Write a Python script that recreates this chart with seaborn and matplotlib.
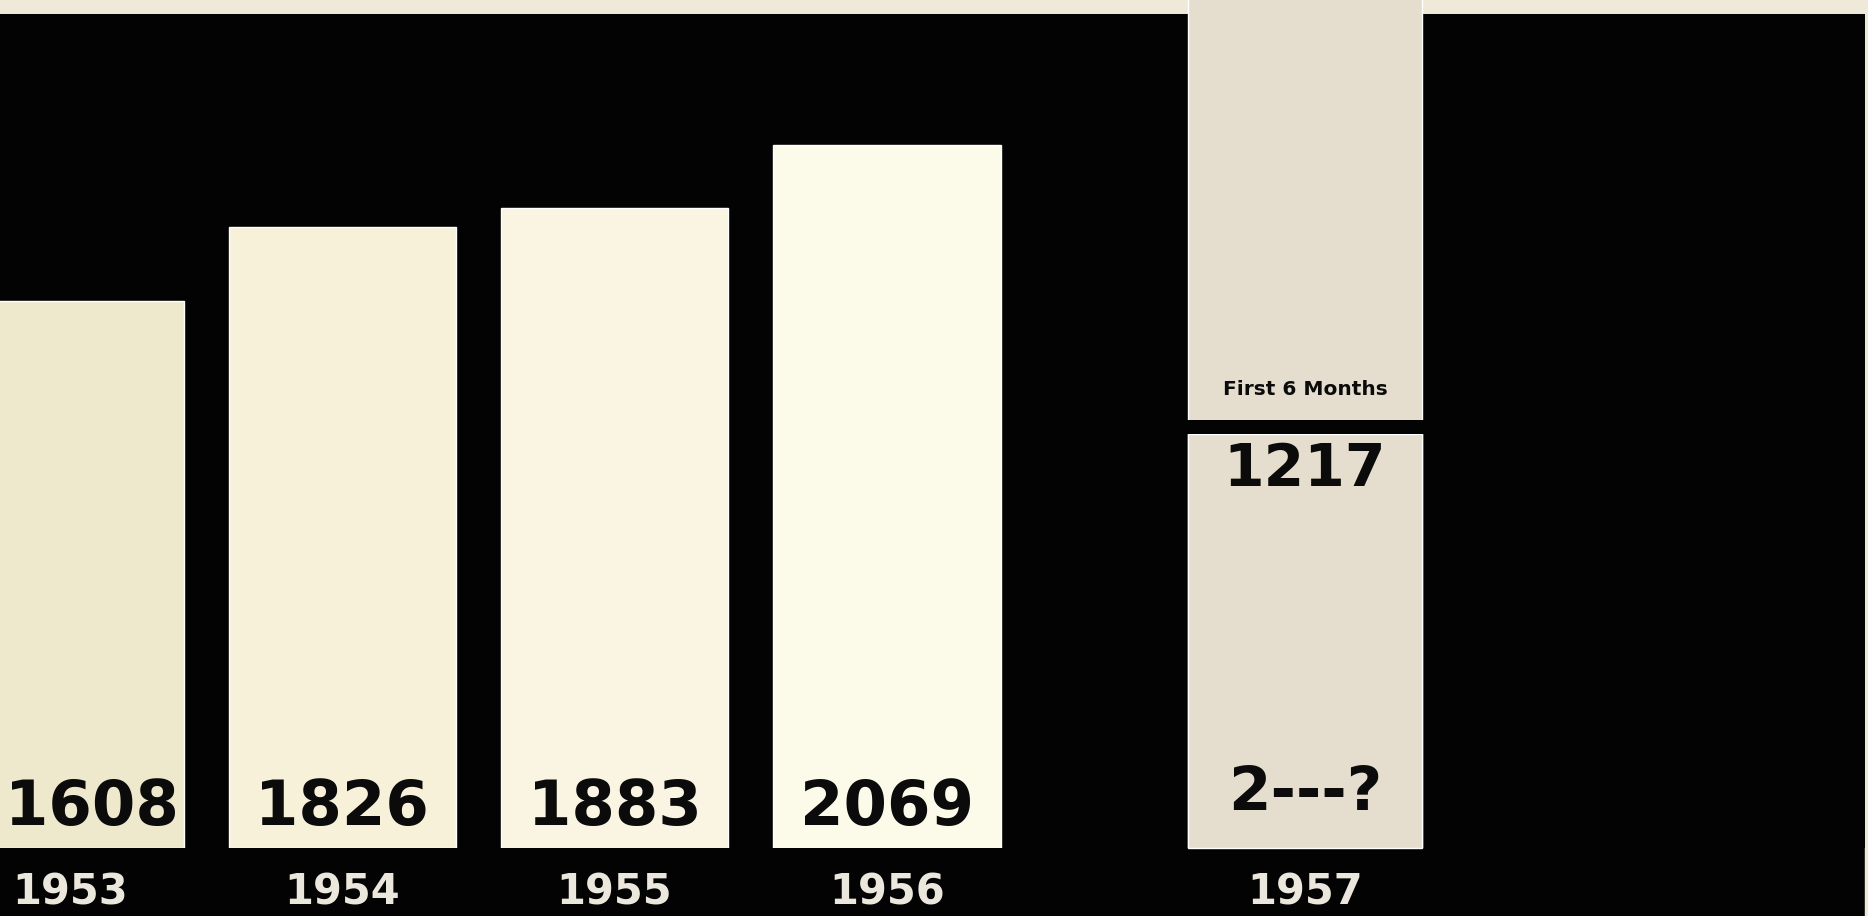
import matplotlib
matplotlib.use("Agg")
import matplotlib.pyplot as plt
import numpy as np
import pandas as pd
import seaborn as sns
from matplotlib.patches import Rectangle

# values printed on the chart
years = ["1953", "1954", "1955", "1956", "1957"]
units = [1608, 1826, 1883, 2069, 1217]  # 1957 = first 6 months only
value_labels = ["1608", "1826", "1883", "2069", "1217"]
half_label = "First 6 Months"
forecast_label = "2---?"
second_half_1957 = 1300  # upper block runs off the top of the page, not printed

BLACK = "#030303"
STRIP = "#eee9d8"
INK = "#0b0b0b"
YEAR_INK = "#ece7dc"
bar_colors = {"1953": "#eee9cd", "1954": "#f8f1da", "1955": "#f9f5e2", "1956": "#fcfbea"}
GREY = "#e5dece"

W, H = 1868, 916
BOTTOM_PX, TOP_PX, RIGHT_PX = 848, 14, 1865
YMAX = 2453
px_per_unit = (BOTTOM_PX - TOP_PX) / YMAX
PT = 0.72  # points per pixel at dpi 100
X0, STEP = -70 / 272.3, 272.3  # x-axis: 1953 centre sits 70 px in from the left

sns.set_style("dark", {"axes.facecolor": BLACK, "figure.facecolor": BLACK})
plt.rcParams["font.family"] = ["DejaVu Sans"]

df = pd.DataFrame({"year": years, "units": units})
# 1957 stands a little apart from the regular row of years
df["pos"] = np.arange(len(df), dtype=float) + np.where(df["year"] == "1957", 0.535, 0.0)

fig = plt.figure(figsize=(W / 100, H / 100), dpi=100)
fig.patch.set_facecolor(BLACK)
ax = fig.add_axes([0, (H - BOTTOM_PX) / H, RIGHT_PX / W, (BOTTOM_PX - TOP_PX) / H])
ax.set_facecolor(BLACK)

past = df[df["year"] != "1957"]
cur = df[df["year"] == "1957"]
cur_total = cur.assign(units=cur["units"] + second_half_1957)

PAST_W = 0.835
sns.barplot(data=past, x="pos", y="units", hue="year", palette=bar_colors, native_scale=True,
            width=PAST_W, dodge=False, legend=False, saturation=1, errorbar=None, ax=ax)
sns.barplot(data=cur_total, x="pos", y="units", color=GREY, native_scale=True,
            width=0.86, saturation=1, errorbar=None, ax=ax)
for bar in ax.containers[-1]:
    bar.set_clip_on(False)
sns.barplot(data=cur, x="pos", y="units", color=GREY, native_scale=True,
            width=0.86, saturation=1, errorbar=None, ax=ax)

# black cut between the first half and the rest of 1957
p57 = cur["pos"].iloc[0]
v57 = cur["units"].iloc[0]
gap_px = 14
ax.hlines(v57 + gap_px / px_per_unit / 2, p57 - 0.45, p57 + 0.45, color=BLACK, lw=gap_px * PT, zorder=3)

for p, lab in zip(past["pos"], value_labels[:4]):
    # centre the figure on the part of the bar that is on the page
    left = max(p - PAST_W / 2, X0)
    xc = (left + p + PAST_W / 2) / 2
    ax.annotate(lab, xy=(xc, 0), xytext=(0, 23 * PT), textcoords="offset points",
                ha="center", va="baseline", fontsize=45, fontweight="bold", color=INK)

ax.annotate(value_labels[4], xy=(p57, v57), xytext=(0, -7 * PT), textcoords="offset points",
            ha="center", va="top", fontsize=42, fontweight="bold", color=INK)
ax.annotate(forecast_label, xy=(p57, 0), xytext=(0, 38 * PT), textcoords="offset points",
            ha="center", va="baseline", fontsize=44, fontweight="bold", color=INK)
ax.annotate(half_label, xy=(p57, v57), xytext=(0, 39 * PT), textcoords="offset points",
            ha="center", va="baseline", fontsize=14.5, fontweight="bold", color=INK, zorder=5)

ax.set_xlim(X0, (RIGHT_PX - 70) / STEP)
ax.set_ylim(0, YMAX)
ax.set_xticks(df["pos"], years)
ax.set_yticks([])
ax.set(xlabel="", ylabel="")
ax.tick_params(axis="x", length=0, pad=17, labelsize=30, labelcolor=YEAR_INK)
for t in ax.get_xticklabels():
    t.set_fontweight("heavy")
for s in ax.spines.values():
    s.set_visible(False)
ax.grid(False)

# paper edges of the scan
fig.patches.append(Rectangle((0, (H - TOP_PX) / H), 1, TOP_PX / H, transform=fig.transFigure,
                             color=STRIP, zorder=-1))
fig.patches.append(Rectangle((RIGHT_PX / W, 0), 1 - RIGHT_PX / W, 1, transform=fig.transFigure,
                             color=STRIP, zorder=-1))

fig.savefig("out.png", dpi=100, facecolor=fig.get_facecolor())
